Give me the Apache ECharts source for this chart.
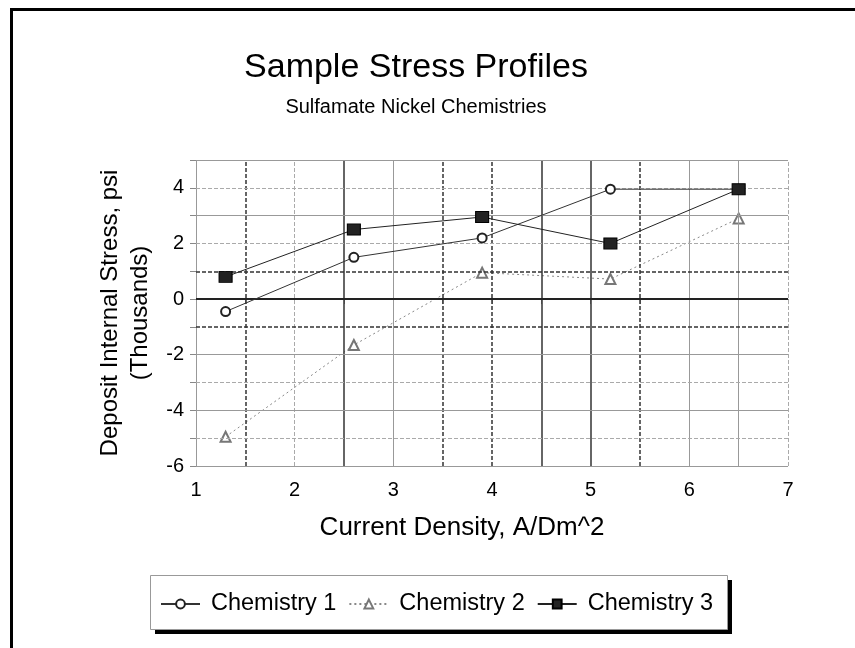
<!DOCTYPE html>
<html>
<head>
<meta charset="utf-8">
<script src="https://cdn.jsdelivr.net/npm/echarts@6/dist/echarts.min.js"></script>
<style>
  html, body { margin: 0; padding: 0; background: #fff; }
  #frame {
    position: absolute; left: 10px; top: 8px; width: 845px; height: 640px;
    border-left: 3px solid #000; border-top: 3px solid #000;
  }
  #chart { position: absolute; left: 0; top: 0; width: 855px; height: 648px; }
</style>
</head>
<body>
<div id="frame"></div>
<div id="chart"></div>
<script>
// data
const seriesNames = ["Chemistry 1", "Chemistry 2", "Chemistry 3"];
const xValues = [1.3, 2.6, 3.9, 5.2, 6.5];
const chem1 = [-0.45, 1.5, 2.2, 3.95, 3.95];
const chem2 = [-4.95, -1.65, 0.95, 0.72, 2.9];
const chem3 = [0.8, 2.5, 2.95, 2.0, 3.95];

// grid lines (axis values) grouped by how they look in the picture
const xGridLight = [1, 3, 6, 6.5];
const xGridLightDash = [2, 7];
const xGridDark = [2.5, 4.5, 5];
const xGridDarkDash = [1.5, 3.5, 4, 5.5];
const yGridLight = [-6, -4, -2, 3, 5];
const yGridLightDash = [-5, -3, 2, 4];
const yGridDark = [0];
const yGridDarkDash = [-1, 1];

const font = "Liberation Sans, Arial, sans-serif";

function pairs(ys) {
  return xValues.map((x, i) => [x, ys[i]]);
}

function gridLines(vals, axis, color, type, width) {
  return vals.map((v) => ({
    [axis]: v,
    lineStyle: { color: color, type: type, width: width },
  }));
}

const chart = echarts.init(document.getElementById("chart"));
chart.setOption({
  animation: false,
  backgroundColor: "transparent",
  title: [
    {
      text: "Sample Stress Profiles",
      left: 411,
      top: 46,
      textAlign: "center",
      textStyle: { fontFamily: font, fontSize: 34, fontWeight: "normal", color: "#000" },
    },
    {
      text: "Sulfamate Nickel Chemistries",
      left: 411,
      top: 92,
      textAlign: "center",
      textStyle: { fontFamily: font, fontSize: 20, fontWeight: "normal", color: "#000" },
    },
  ],
  grid: { left: 196, right: 67, top: 160, bottom: 182 },
  // legend box + its shadow
  graphic: [
    { type: "rect", left: 155, top: 580, shape: { width: 577, height: 54 }, style: { fill: "#000" }, z: 0 },
    { type: "rect", left: 150, top: 575, shape: { width: 577, height: 54 }, style: { fill: "#fff", stroke: "#999", lineWidth: 1 }, z: 1 },
  ],
  xAxis: {
    type: "value",
    min: 1,
    max: 7,
    interval: 0.5,
    name: "Current Density, A/Dm^2",
    nameLocation: "middle",
    nameGap: 49,
    nameTextStyle: { fontFamily: font, fontSize: 26, color: "#000", padding: [0, 60, 0, 0] },
    axisLine: { show: false },
    axisTick: { show: true, length: 5, lineStyle: { color: "#888" } },
    axisLabel: {
      margin: 14,
      fontFamily: font,
      fontSize: 20,
      color: "#000",
      formatter: (v) => (Number.isInteger(v) ? String(v) : ""),
    },
    splitLine: { show: false },
  },
  yAxis: {
    type: "value",
    min: -6,
    max: 5,
    interval: 1,
    name: "Deposit Internal Stress, psi\n(Thousands)",
    nameLocation: "middle",
    nameRotate: 90,
    nameGap: 40,
    nameTextStyle: { fontFamily: font, fontSize: 24, color: "#000", lineHeight: 30 },
    axisLine: { show: false },
    axisTick: { show: true, length: 6, lineStyle: { color: "#888" } },
    axisLabel: {
      margin: 12,
      fontFamily: font,
      fontSize: 20,
      color: "#000",
      formatter: (v) => (v % 2 === 0 ? String(v) : ""),
    },
    splitLine: { show: false },
  },
  legend: {
    left: 160,
    top: 592,
    padding: 0,
    itemGap: 12,
    itemWidth: 39,
    itemHeight: 11,
    textStyle: { fontFamily: font, fontSize: 23.5, color: "#000", padding: [0, 0, 0, 6] },
    data: seriesNames,
    z: 5,
  },
  series: [
    {
      // helper series that only carries the grid lines
      type: "line",
      data: [],
      silent: true,
      markLine: {
        silent: true,
        symbol: "none",
        label: { show: false },
        data: [].concat(
          gridLines(xGridLight, "xAxis", "#999", "solid", 1),
          gridLines(xGridLightDash, "xAxis", "#aaa", [4, 2], 1),
          gridLines(xGridDark, "xAxis", "#333", "solid", 1.5),
          gridLines(xGridDarkDash, "xAxis", "#333", [4, 2], 1.5),
          gridLines(yGridLight, "yAxis", "#999", "solid", 1),
          gridLines(yGridLightDash, "yAxis", "#aaa", [4, 2], 1),
          gridLines(yGridDark, "yAxis", "#222", "solid", 2),
          gridLines(yGridDarkDash, "yAxis", "#333", [4, 2], 1.5)
        ),
      },
    },
    {
      name: seriesNames[0],
      type: "line",
      data: pairs(chem1),
      symbol: "emptyCircle",
      symbolSize: 9,
      lineStyle: { color: "#333", width: 1 },
      itemStyle: { color: "#222", borderWidth: 2 },
      z: 5,
    },
    {
      name: seriesNames[1],
      type: "line",
      data: pairs(chem2),
      symbol: "emptyTriangle",
      symbolSize: 10,
      lineStyle: { color: "#888", width: 1, type: [2, 3] },
      itemStyle: { color: "#777", borderWidth: 1.5 },
      z: 4,
    },
    {
      name: seriesNames[2],
      type: "line",
      data: pairs(chem3),
      symbol: "rect",
      symbolSize: [13, 11],
      lineStyle: { color: "#222", width: 1 },
      itemStyle: { color: "#222", borderColor: "#000", borderWidth: 1 },
      z: 6,
    },
  ],
});
</script>
</body>
</html>
